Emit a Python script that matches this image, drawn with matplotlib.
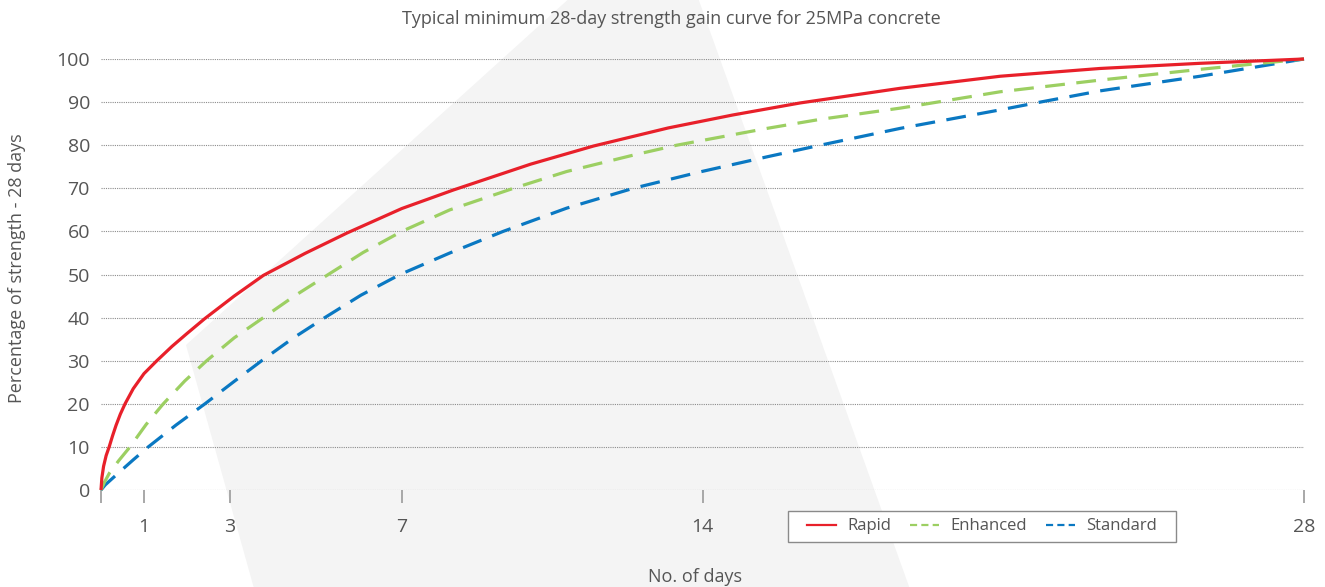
import matplotlib
matplotlib.use("Agg")
import matplotlib.pyplot as plt
from matplotlib.lines import Line2D
from matplotlib.patches import Polygon, Rectangle

# ---- data ----
title = "Typical minimum 28-day strength gain curve for 25MPa concrete"
xlabel = "No. of days"
ylabel = "Percentage of strength - 28 days"
x_ticks = [0, 1, 3, 7, 14, 28]
x_tick_labels = ["", "1", "3", "7", "14", "28"]
y_ticks = [0, 10, 20, 30, 40, 50, 60, 70, 80, 90, 100]

rapid_days = [0, 0.02, 0.06, 0.12, 0.19, 0.27, 0.35, 0.45, 0.56, 0.75, 1.0, 1.3, 1.65, 2.0,
              2.42, 3.1, 3.78, 4.75, 5.72, 7.0, 8.2, 10.0, 11.46, 13.2, 14.7, 16.27,
              18.6, 20.93, 23.25, 25.58, 28]
rapid_vals = [0, 2.8, 5.5, 8.0, 10, 12.6, 15, 17.6, 20, 23.5, 27, 30, 33.3, 36.3,
              39.8, 45.0, 49.8, 54.9, 59.6, 65.3, 69.6, 75.6, 79.8, 84.0, 87.0, 89.8,
              93.2, 96.0, 97.8, 99.0, 100]

enh_days = [0, 0.08, 0.2, 0.42, 0.675, 1.05, 1.45, 1.95, 2.46, 3.1, 3.78, 4.5, 5.29, 6.1,
            7.0, 8.12, 9.6, 10.84, 12.39, 13.4, 15.5, 16.74, 18.6, 19.1, 20.93, 23.25,
            25.58, 28]
enh_vals = [0, 1.8, 4.0, 6.9, 10, 15.2, 20, 25.3, 30, 35.3, 40, 45, 50, 55.1,
            60, 65, 70, 73.9, 77.7, 80, 83.9, 86.0, 88.6, 89.4, 92.4, 95.1,
            97.6, 100]

std_days = [0, 0.1, 0.4, 0.75, 1.1, 1.75, 2.42, 3.1, 3.74, 4.45, 5.21, 6.05, 6.96, 8.12,
            9.36, 10.84, 12.39, 13.94, 15.5, 16.74, 18.6, 20.93, 21.86, 23.25, 25.58, 28]
std_vals = [0, 1.2, 3.9, 7.0, 10, 15.1, 20, 25.2, 30, 35.1, 40, 45.2, 50, 55.0,
            60, 65.4, 70, 73.8, 77.3, 80, 83.9, 88.2, 90, 92.6, 96.0, 100]

series_names = ["Rapid", "Enhanced", "Standard"]
colors = ["#e8202a", "#9ccf62", "#0a78c2"]

# ---- figure ----
W, H = 1325, 587
fig = plt.figure(figsize=(W / 100, H / 100), dpi=100)
plt.rcParams['font.family'] = ['Open Sans', 'DejaVu Sans']
txt = "#555555"

# decorative background polygon (pixel coords from top-left)
poly_px = [(573, -5), (697, -5), (911, 592), (255, 592), (186, 345)]
poly = Polygon([(x / W, 1 - y / H) for x, y in poly_px], closed=True,
               transform=fig.transFigure, facecolor="#f4f4f4", edgecolor="none", zorder=-10)
fig.patches.append(poly)

ax = fig.add_axes([101 / W, (H - 490) / H, (1304 - 101) / W, (490 - 59) / H])
ax.set_facecolor("none")
ax.set_xlim(0, 28)
ax.set_ylim(0, 100)
for s in ax.spines.values():
    s.set_visible(False)

ax.set_yticks(y_ticks)
ax.set_xticks(x_ticks)
ax.set_xticklabels(x_tick_labels)
ax.yaxis.grid(True, linestyle=(0, (1, 1)), color="#8c8c8c", linewidth=0.8)
ax.tick_params(axis="y", length=0, pad=8, labelsize=14, labelcolor=txt)
ax.tick_params(axis="x", length=9.5, width=1.2, color="#9a9a9a", pad=11, labelsize=14, labelcolor=txt)

lw = 2.3
ax.plot(rapid_days, rapid_vals, color=colors[0], lw=lw, clip_on=False, zorder=5,
        solid_capstyle="butt", solid_joinstyle="round")
ax.plot(enh_days, enh_vals, color=colors[1], lw=lw, clip_on=False, zorder=4,
        dashes=(6.2, 3.6), dash_capstyle="butt")
ax.plot(std_days, std_vals, color=colors[2], lw=lw, clip_on=False, zorder=3,
        dashes=(6.2, 3.6), dash_capstyle="butt")

fig.text(671 / W, 1 - 19 / H, title, ha="center", va="center", fontsize=13, color=txt)
fig.text(695 / W, 1 - 577 / H, xlabel, ha="center", va="center", fontsize=13, color=txt)
fig.text(17 / W, 1 - 268 / H, ylabel, ha="center", va="center", fontsize=13, color=txt,
         rotation=90)

# legend frame drawn separately to match its padding
frame = Rectangle((788 / W, 1 - 542 / H), (1176 - 788) / W, (542 - 511) / H,
                  transform=fig.transFigure, facecolor="white", edgecolor="#8a8a8a",
                  linewidth=1.0, zorder=8)
fig.patches.append(frame)

handles = [
    Line2D([], [], color=colors[0], lw=1.6),
    Line2D([], [], color=colors[1], lw=1.6, dashes=(3.2, 1.9)),
    Line2D([], [], color=colors[2], lw=1.6, dashes=(3.2, 1.9)),
]
leg = fig.legend(handles, series_names, loc="center left",
                 bbox_to_anchor=(807 / W, 1 - (511 + 542) / 2 / H),
                 ncol=3, fontsize=12, frameon=False,
                 handlelength=1.75, handletextpad=0.65, columnspacing=1.15,
                 borderpad=0, borderaxespad=0)
leg.set_zorder(9)
for t in leg.get_texts():
    t.set_color(txt)

fig.savefig("out.png", dpi=100)
